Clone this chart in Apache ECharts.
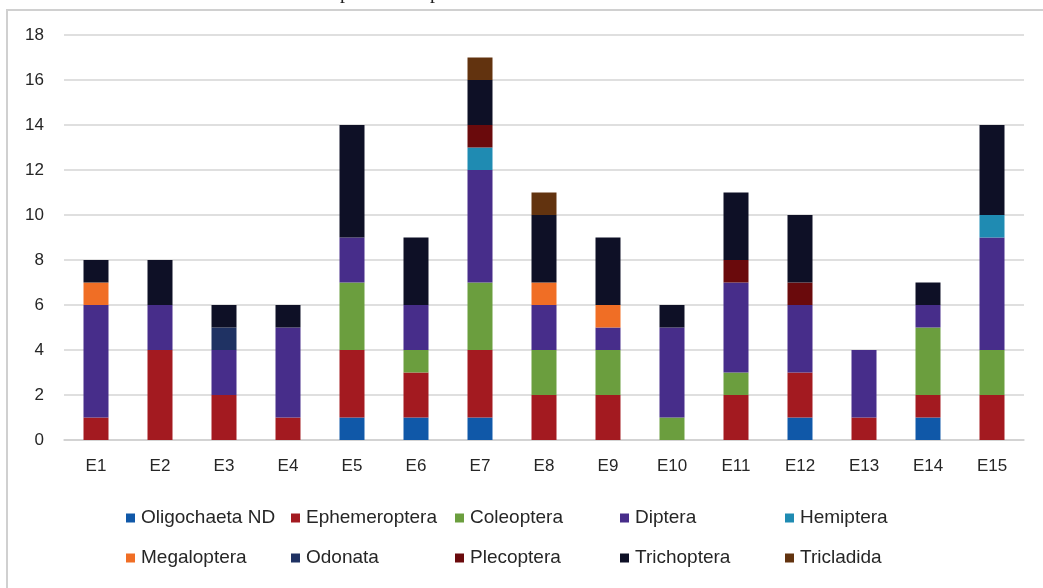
<!DOCTYPE html>
<html>
<head>
<meta charset="utf-8">
<style>
  html, body { margin: 0; padding: 0; background: #ffffff; }
  #chart { width: 1043px; height: 588px; }
</style>
<script src="https://cdn.jsdelivr.net/npm/echarts@6/dist/echarts.min.js"></script>
</head>
<body>
<div id="chart"></div>
<script>
const categories = ['E1','E2','E3','E4','E5','E6','E7','E8','E9','E10','E11','E12','E13','E14','E15'];
const yTicks = [0, 2, 4, 6, 8, 10, 12, 14, 16, 18];

const oligochaeta  = [0,0,0,0,1,1,1,0,0,0,0,1,0,1,0];
const ephemeroptera = [1,4,2,1,3,2,3,2,2,0,2,2,1,1,2];
const coleoptera   = [0,0,0,0,3,1,3,2,2,1,1,0,0,3,2];
const diptera      = [5,2,2,4,2,2,5,2,1,4,4,3,3,1,5];
const hemiptera    = [0,0,0,0,0,0,1,0,0,0,0,0,0,0,1];
const megaloptera  = [1,0,0,0,0,0,0,1,1,0,0,0,0,0,0];
const odonata      = [0,0,1,0,0,0,0,0,0,0,0,0,0,0,0];
const plecoptera   = [0,0,0,0,0,0,1,0,0,0,1,1,0,0,0];
const trichoptera  = [1,2,1,1,5,3,2,3,3,1,3,3,0,1,4];
const tricladida   = [0,0,0,0,0,0,1,1,0,0,0,0,0,0,0];

const seriesNames = ['Oligochaeta ND','Ephemeroptera','Coleoptera','Diptera','Hemiptera',
                     'Megaloptera','Odonata','Plecoptera','Trichoptera','Tricladida'];
const seriesData = [oligochaeta, ephemeroptera, coleoptera, diptera, hemiptera,
                    megaloptera, odonata, plecoptera, trichoptera, tricladida];
const colors = ['#1058A8','#A31A20','#6B9E3E','#472D8A','#1F8BB2',
                '#F06E25','#1F3263','#6A0A0C','#0E1026','#62330F'];

const legendCols = [126, 291, 455, 620, 785];
const font = '"Liberation Sans", "Noto Sans", sans-serif';

const legends = legendCols.map((x, i) => ({
  orient: 'vertical',
  left: x,
  top: 507,
  itemWidth: 9,
  itemHeight: 9,
  itemGap: 18,
  icon: 'rect',
  padding: 0,
  selectedMode: false,
  data: [seriesNames[i], seriesNames[i + 5]],
  textStyle: { fontFamily: font, fontSize: 19, color: '#262626', lineHeight: 22, padding: [0, 0, 0, 1] }
}));

const chart = echarts.init(document.getElementById('chart'), null, { renderer: 'canvas' });
chart.setOption({
  animation: false,
  backgroundColor: '#ffffff',
  color: colors,
  grid: { left: 64, right: 19, top: 35, bottom: 148, containLabel: false },
  legend: legends,
  graphic: [
    { type: 'rect', shape: { x: 7, y: 10, width: 1100, height: 700 },
      style: { fill: 'none', stroke: '#d0d0d0', lineWidth: 2 }, silent: true },
    { type: 'text', left: 340, top: -17,
      style: { text: 'p', font: '20px "Liberation Serif", serif', fill: '#222' }, silent: true },
    { type: 'text', left: 430, top: -17,
      style: { text: 'p', font: '20px "Liberation Serif", serif', fill: '#222' }, silent: true }
  ],
  xAxis: {
    type: 'category',
    data: categories,
    axisLine: { show: true, lineStyle: { color: '#d0d0d0', width: 1.5 } },
    axisTick: { show: false },
    axisLabel: { fontFamily: font, fontSize: 17, color: '#262626', margin: 18 }
  },
  yAxis: {
    type: 'value',
    min: yTicks[0],
    max: yTicks[yTicks.length - 1],
    interval: yTicks[1] - yTicks[0],
    axisLine: { show: false },
    axisTick: { show: false },
    axisLabel: { fontFamily: font, fontSize: 17, color: '#262626', margin: 20 },
    splitLine: { lineStyle: { color: '#d4d4d4', width: 1.5 } }
  },
  series: seriesNames.map((name, i) => ({
    name: name,
    type: 'bar',
    stack: 'total',
    barWidth: 25,
    data: seriesData[i],
    itemStyle: { color: colors[i] }
  }))
});
</script>
</body>
</html>
